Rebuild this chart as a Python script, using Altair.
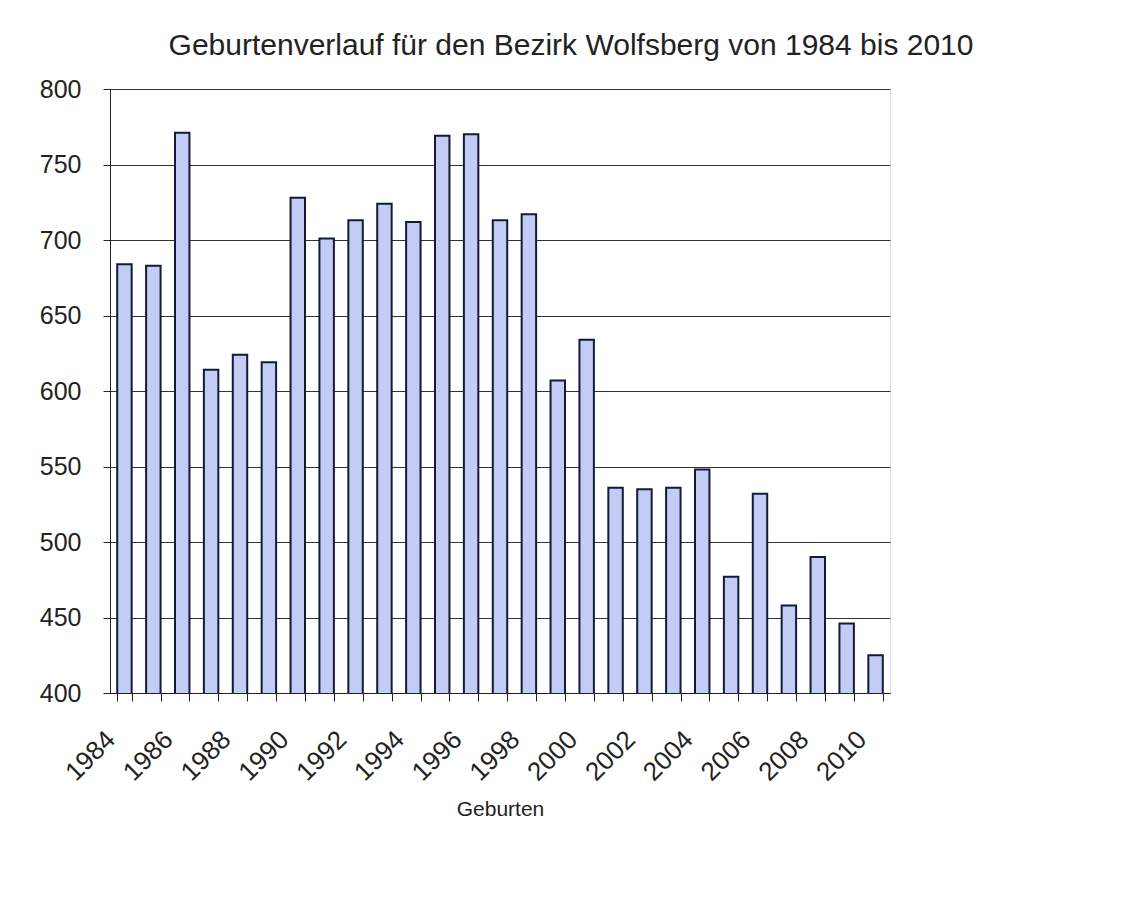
import altair as alt
import pandas as pd

years = list(range(1984, 2011))
births = [684, 683, 771, 614, 624, 619, 728, 701, 713, 724, 712, 769, 770, 713,
          717, 607, 634, 536, 535, 536, 548, 477, 532, 458, 490, 446, 425]

title_text = "Geburtenverlauf für den Bezirk Wolfsberg von 1984 bis 2010"
x_title = "Geburten"
y_ticks = [400, 450, 500, 550, 600, 650, 700, 750, 800]

df = pd.DataFrame({"year": years, "births": births})

FONT = "Liberation Sans"

bars = alt.Chart(df).mark_bar(
    fill="#c2ccf4", stroke="#141a36", strokeWidth=2, clip=True
).encode(
    x=alt.X("year:O", title=x_title,
            scale=alt.Scale(paddingInner=0.5, paddingOuter=0.25),
            axis=alt.Axis(labelAngle=-45, tickBand="extent", labelOverlap=False,
                          labelExpr="datum.value % 2 == 0 ? datum.label : ''",
                          labelFontSize=26, labelFont=FONT, labelColor="#222",
                          labelPadding=25, labelOffset=-23, tickSize=8,
                          tickColor="#222", domainColor="#222",
                          titleFont=FONT, titleFontSize=21,
                          titleFontWeight="normal", titleColor="#222",
                          titlePadding=13, grid=False)),
    y=alt.Y("births:Q", title=None,
            scale=alt.Scale(domain=[400, 800], nice=False, zero=False),
            axis=alt.Axis(values=y_ticks, labelFontSize=25, labelFont=FONT,
                          labelColor="#222", tickSize=7, tickColor="#222",
                          domainColor="#222", labelPadding=22,
                          gridColor="#333", gridWidth=1)),
)

chart = bars.properties(
    width=780, height=604,
    padding={"left": 110, "top": 89, "right": 239, "bottom": 205},
    autosize="none",
    title=alt.Title(title_text, font=FONT, fontSize=30, fontWeight="normal",
                    color="#222", anchor="middle", dx=71, offset=16),
).configure_view(
    fill="#f5f6fb", stroke="#888", strokeWidth=1
).configure(background="white")

chart.save("out.html", embed_options={"renderer": "svg", "actions": False})
